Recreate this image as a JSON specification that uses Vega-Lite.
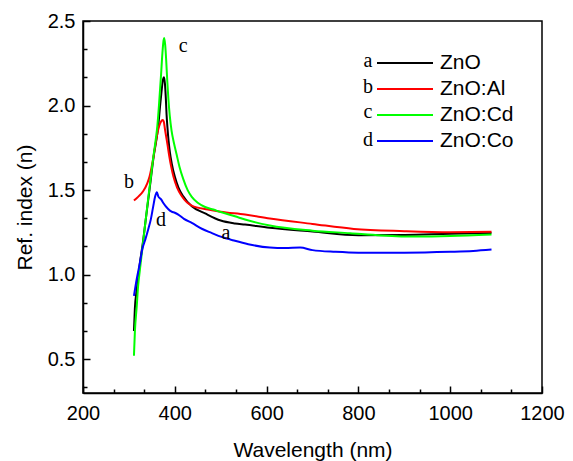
{
  "$schema": "https://vega.github.io/schema/vega-lite/v6.json",
  "width": 459,
  "height": 372,
  "autosize": {"type": "none"},
  "padding": {"left": 83, "top": 21, "right": 31, "bottom": 68},
  "config": {
    "view": {"stroke": "black", "strokeWidth": 1.5},
    "font": "Liberation Sans",
    "axis": {"grid": false, "domainColor": "black", "domainWidth": 1.5, "tickColor": "black", "tickWidth": 1.5, "labelColor": "black", "titleColor": "black", "labelFont": "Liberation Sans", "titleFont": "Liberation Sans", "labelFontSize": 20, "titleFontSize": 21, "titleFontWeight": "normal", "labelFlush": false}
  },
  "datasets": {
    "curves": [
      {"s": "ZnO", "w": 311, "n": 0.667},
      {"s": "ZnO", "w": 313, "n": 0.80},
      {"s": "ZnO", "w": 317, "n": 0.91},
      {"s": "ZnO", "w": 324, "n": 1.07},
      {"s": "ZnO", "w": 330, "n": 1.18},
      {"s": "ZnO", "w": 336, "n": 1.31},
      {"s": "ZnO", "w": 342, "n": 1.44},
      {"s": "ZnO", "w": 348, "n": 1.57},
      {"s": "ZnO", "w": 354, "n": 1.70},
      {"s": "ZnO", "w": 360, "n": 1.80},
      {"s": "ZnO", "w": 364, "n": 1.88},
      {"s": "ZnO", "w": 368, "n": 2.0},
      {"s": "ZnO", "w": 371, "n": 2.08},
      {"s": "ZnO", "w": 374, "n": 2.15},
      {"s": "ZnO", "w": 376.5, "n": 2.168},
      {"s": "ZnO", "w": 378.5, "n": 2.13},
      {"s": "ZnO", "w": 380.5, "n": 2.04},
      {"s": "ZnO", "w": 382, "n": 1.95},
      {"s": "ZnO", "w": 384, "n": 1.87},
      {"s": "ZnO", "w": 386.5, "n": 1.79},
      {"s": "ZnO", "w": 389.5, "n": 1.72},
      {"s": "ZnO", "w": 393.5, "n": 1.655},
      {"s": "ZnO", "w": 400, "n": 1.58},
      {"s": "ZnO", "w": 408, "n": 1.515},
      {"s": "ZnO", "w": 418, "n": 1.465},
      {"s": "ZnO", "w": 437, "n": 1.404},
      {"s": "ZnO", "w": 466, "n": 1.362},
      {"s": "ZnO", "w": 500, "n": 1.32},
      {"s": "ZnO", "w": 531, "n": 1.303},
      {"s": "ZnO", "w": 553, "n": 1.296},
      {"s": "ZnO", "w": 607, "n": 1.277},
      {"s": "ZnO", "w": 700, "n": 1.255},
      {"s": "ZnO", "w": 800, "n": 1.233},
      {"s": "ZnO", "w": 900, "n": 1.235},
      {"s": "ZnO", "w": 1000, "n": 1.242},
      {"s": "ZnO", "w": 1090, "n": 1.247},

      {"s": "ZnO:Al", "w": 311, "n": 1.438},
      {"s": "ZnO:Al", "w": 320, "n": 1.46},
      {"s": "ZnO:Al", "w": 331, "n": 1.493},
      {"s": "ZnO:Al", "w": 340, "n": 1.54},
      {"s": "ZnO:Al", "w": 345, "n": 1.58},
      {"s": "ZnO:Al", "w": 349, "n": 1.63},
      {"s": "ZnO:Al", "w": 352.5, "n": 1.68},
      {"s": "ZnO:Al", "w": 356, "n": 1.74},
      {"s": "ZnO:Al", "w": 359.7, "n": 1.80},
      {"s": "ZnO:Al", "w": 364, "n": 1.86},
      {"s": "ZnO:Al", "w": 368, "n": 1.895},
      {"s": "ZnO:Al", "w": 371, "n": 1.91},
      {"s": "ZnO:Al", "w": 373.6, "n": 1.915},
      {"s": "ZnO:Al", "w": 376, "n": 1.905},
      {"s": "ZnO:Al", "w": 378.6, "n": 1.86},
      {"s": "ZnO:Al", "w": 381, "n": 1.82},
      {"s": "ZnO:Al", "w": 384, "n": 1.77},
      {"s": "ZnO:Al", "w": 388, "n": 1.70},
      {"s": "ZnO:Al", "w": 392, "n": 1.64},
      {"s": "ZnO:Al", "w": 397, "n": 1.58},
      {"s": "ZnO:Al", "w": 405, "n": 1.515},
      {"s": "ZnO:Al", "w": 415, "n": 1.465},
      {"s": "ZnO:Al", "w": 437, "n": 1.408},
      {"s": "ZnO:Al", "w": 472, "n": 1.385},
      {"s": "ZnO:Al", "w": 500, "n": 1.372},
      {"s": "ZnO:Al", "w": 553, "n": 1.355},
      {"s": "ZnO:Al", "w": 607, "n": 1.332},
      {"s": "ZnO:Al", "w": 700, "n": 1.30},
      {"s": "ZnO:Al", "w": 790, "n": 1.27},
      {"s": "ZnO:Al", "w": 900, "n": 1.257},
      {"s": "ZnO:Al", "w": 1000, "n": 1.251},
      {"s": "ZnO:Al", "w": 1090, "n": 1.253},

      {"s": "ZnO:Cd", "w": 311, "n": 0.52},
      {"s": "ZnO:Cd", "w": 313, "n": 0.66},
      {"s": "ZnO:Cd", "w": 317, "n": 0.81},
      {"s": "ZnO:Cd", "w": 320, "n": 0.93},
      {"s": "ZnO:Cd", "w": 324, "n": 1.03},
      {"s": "ZnO:Cd", "w": 330, "n": 1.17},
      {"s": "ZnO:Cd", "w": 336, "n": 1.31},
      {"s": "ZnO:Cd", "w": 342, "n": 1.45},
      {"s": "ZnO:Cd", "w": 348, "n": 1.58},
      {"s": "ZnO:Cd", "w": 352, "n": 1.67},
      {"s": "ZnO:Cd", "w": 358, "n": 1.79},
      {"s": "ZnO:Cd", "w": 362, "n": 1.88},
      {"s": "ZnO:Cd", "w": 366, "n": 2.02},
      {"s": "ZnO:Cd", "w": 370, "n": 2.18},
      {"s": "ZnO:Cd", "w": 373, "n": 2.31},
      {"s": "ZnO:Cd", "w": 375.5, "n": 2.385},
      {"s": "ZnO:Cd", "w": 377, "n": 2.40},
      {"s": "ZnO:Cd", "w": 379, "n": 2.36},
      {"s": "ZnO:Cd", "w": 381, "n": 2.28},
      {"s": "ZnO:Cd", "w": 383.5, "n": 2.15},
      {"s": "ZnO:Cd", "w": 386, "n": 2.04},
      {"s": "ZnO:Cd", "w": 389, "n": 1.94},
      {"s": "ZnO:Cd", "w": 393, "n": 1.85},
      {"s": "ZnO:Cd", "w": 398, "n": 1.78},
      {"s": "ZnO:Cd", "w": 404, "n": 1.71},
      {"s": "ZnO:Cd", "w": 410, "n": 1.64},
      {"s": "ZnO:Cd", "w": 418.5, "n": 1.565},
      {"s": "ZnO:Cd", "w": 428, "n": 1.50},
      {"s": "ZnO:Cd", "w": 437, "n": 1.46},
      {"s": "ZnO:Cd", "w": 450, "n": 1.425},
      {"s": "ZnO:Cd", "w": 466, "n": 1.40},
      {"s": "ZnO:Cd", "w": 484, "n": 1.385},
      {"s": "ZnO:Cd", "w": 500, "n": 1.37},
      {"s": "ZnO:Cd", "w": 531, "n": 1.345},
      {"s": "ZnO:Cd", "w": 553, "n": 1.326},
      {"s": "ZnO:Cd", "w": 607, "n": 1.29},
      {"s": "ZnO:Cd", "w": 700, "n": 1.26},
      {"s": "ZnO:Cd", "w": 782, "n": 1.245},
      {"s": "ZnO:Cd", "w": 850, "n": 1.232},
      {"s": "ZnO:Cd", "w": 927, "n": 1.225},
      {"s": "ZnO:Cd", "w": 1000, "n": 1.228},
      {"s": "ZnO:Cd", "w": 1090, "n": 1.237},

      {"s": "ZnO:Co", "w": 311, "n": 0.874},
      {"s": "ZnO:Co", "w": 317, "n": 0.973},
      {"s": "ZnO:Co", "w": 324, "n": 1.07},
      {"s": "ZnO:Co", "w": 329, "n": 1.149},
      {"s": "ZnO:Co", "w": 336, "n": 1.21},
      {"s": "ZnO:Co", "w": 342, "n": 1.267},
      {"s": "ZnO:Co", "w": 348, "n": 1.33},
      {"s": "ZnO:Co", "w": 353, "n": 1.404},
      {"s": "ZnO:Co", "w": 357, "n": 1.46},
      {"s": "ZnO:Co", "w": 361, "n": 1.487},
      {"s": "ZnO:Co", "w": 364, "n": 1.463},
      {"s": "ZnO:Co", "w": 370.6, "n": 1.444},
      {"s": "ZnO:Co", "w": 375, "n": 1.424},
      {"s": "ZnO:Co", "w": 385, "n": 1.39},
      {"s": "ZnO:Co", "w": 393, "n": 1.372},
      {"s": "ZnO:Co", "w": 400, "n": 1.366},
      {"s": "ZnO:Co", "w": 407.6, "n": 1.355},
      {"s": "ZnO:Co", "w": 420, "n": 1.33},
      {"s": "ZnO:Co", "w": 437, "n": 1.306},
      {"s": "ZnO:Co", "w": 460, "n": 1.27},
      {"s": "ZnO:Co", "w": 480, "n": 1.247},
      {"s": "ZnO:Co", "w": 500, "n": 1.225},
      {"s": "ZnO:Co", "w": 531, "n": 1.20},
      {"s": "ZnO:Co", "w": 560, "n": 1.18},
      {"s": "ZnO:Co", "w": 607, "n": 1.16},
      {"s": "ZnO:Co", "w": 640, "n": 1.157},
      {"s": "ZnO:Co", "w": 673, "n": 1.16},
      {"s": "ZnO:Co", "w": 700, "n": 1.145},
      {"s": "ZnO:Co", "w": 750, "n": 1.135},
      {"s": "ZnO:Co", "w": 800, "n": 1.13},
      {"s": "ZnO:Co", "w": 900, "n": 1.13},
      {"s": "ZnO:Co", "w": 1000, "n": 1.135},
      {"s": "ZnO:Co", "w": 1050, "n": 1.14},
      {"s": "ZnO:Co", "w": 1090, "n": 1.148}
    ],
    "letters": [
      {"t": "c", "w": 418.5, "n": 2.319},
      {"t": "b", "w": 300, "n": 1.513},
      {"t": "d", "w": 370, "n": 1.29},
      {"t": "a", "w": 511.5, "n": 1.208},
      {"t": "a", "w": 821, "n": 2.230},
      {"t": "b", "w": 821, "n": 2.073},
      {"t": "c", "w": 821, "n": 1.926},
      {"t": "d", "w": 821, "n": 1.760}
    ]
  },
  "resolve": {"axis": {"x": "independent", "y": "independent"}},
  "layer": [
    {
      "data": {"name": "curves"},
      "mark": {"type": "line", "strokeWidth": 2, "interpolate": "monotone"},
      "encoding": {
        "x": {"field": "w", "type": "quantitative", "scale": {"domain": [200, 1200], "nice": false},
              "axis": {"orient": "bottom", "values": [200, 400, 600, 800, 1000, 1200], "format": "d", "tickSize": -7, "labelPadding": 17, "title": "Wavelength (nm)", "titlePadding": 16}},
        "y": {"field": "n", "type": "quantitative", "scale": {"domain": [0.3, 2.5], "nice": false, "zero": false},
              "axis": {"orient": "left", "values": [0.5, 1.0, 1.5, 2.0, 2.5], "format": ".1f", "tickSize": -7, "labelPadding": 15, "title": "Ref. index (n)", "titlePadding": 12}},
        "color": {"field": "s", "type": "nominal",
                  "scale": {"domain": ["ZnO", "ZnO:Al", "ZnO:Cd", "ZnO:Co"], "range": ["#000000", "#ff0000", "#00ff00", "#0000ff"]},
                  "legend": {"orient": "none", "legendX": 306, "legendY": 26, "title": null, "padding": 0, "symbolType": "M-1.8667,0H1.8667", "symbolSize": 900, "symbolStrokeWidth": 2, "labelFontSize": 21, "labelFont": "Liberation Sans", "labelColor": "black", "labelOffset": 19, "rowPadding": 0}},
        "order": {"field": "w", "type": "quantitative"}
      }
    },
    {
      "data": {"name": "letters"},
      "mark": {"type": "text", "font": "Liberation Serif", "fontSize": 20, "color": "black", "baseline": "alphabetic", "align": "center"},
      "encoding": {
        "x": {"field": "w", "type": "quantitative", "scale": {"domain": [200, 1200], "nice": false},
              "axis": {"orient": "bottom", "values": [266.67, 333.33, 466.67, 533.33, 666.67, 733.33, 866.67, 933.33, 1066.67, 1133.33], "labels": false, "domain": false, "title": null, "tickSize": -4}},
        "y": {"field": "n", "type": "quantitative", "scale": {"domain": [0.3, 2.5], "nice": false, "zero": false},
              "axis": {"orient": "left", "values": [0.3333, 0.6667, 0.8333, 1.1667, 1.3333, 1.6667, 1.8333, 2.1667, 2.3333], "labels": false, "domain": false, "title": null, "tickSize": -4}},
        "text": {"field": "t", "type": "nominal"}
      }
    }
  ]
}
